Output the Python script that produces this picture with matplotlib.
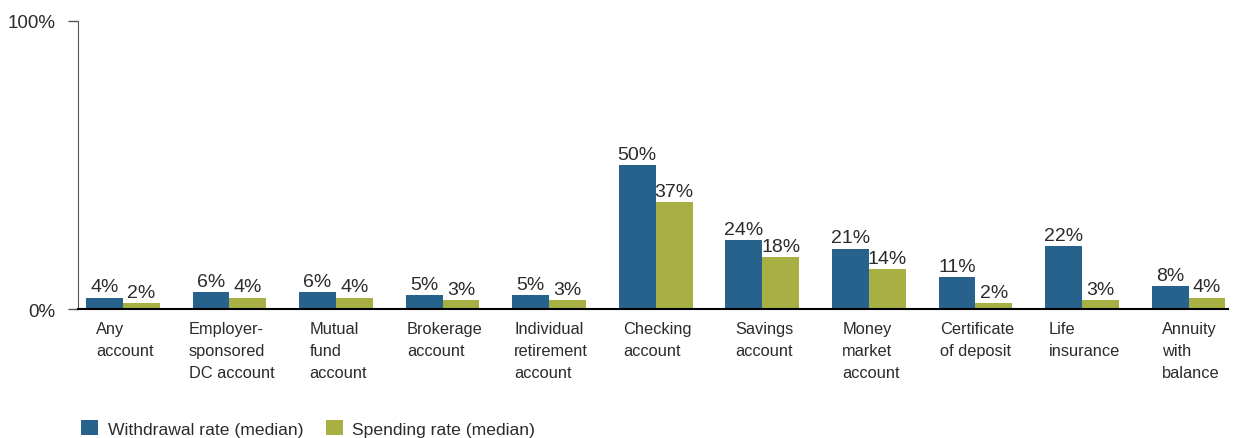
import matplotlib.pyplot as plt
import numpy as np

categories = ['Any\naccount', 'Employer-\nsponsored\nDC account', 'Mutual\nfund\naccount',
              'Brokerage\naccount', 'Individual\nretirement\naccount', 'Checking\naccount',
              'Savings\naccount', 'Money\nmarket\naccount', 'Certificate\nof deposit',
              'Life\ninsurance', 'Annuity\nwith\nbalance']
withdrawal = [4, 6, 6, 5, 5, 50, 24, 21, 11, 22, 8]
spending = [2, 4, 4, 3, 3, 37, 18, 14, 2, 3, 4]

blue = '#27628c'
green = '#a9b043'
text_col = '#2b2b2b'

plt.rcParams['font.family'] = ['Liberation Sans', 'DejaVu Sans']

fig = plt.figure(figsize=(12.37, 4.39), dpi=100)
ax = fig.add_axes([0.0631, 0.2938, 0.9296, 0.6561])

x = np.arange(len(categories))
w = 0.346
b1 = ax.bar(x - w / 2, withdrawal, w, color=blue, label='Withdrawal rate (median)')
b2 = ax.bar(x + w / 2, spending, w, color=green, label='Spending rate (median)')

# value labels above the bars
for bars, vals in [(b1, withdrawal), (b2, spending)]:
    for bar, v in zip(bars, vals):
        ax.annotate(f'{v}%', (bar.get_x() + bar.get_width() / 2, v), xytext=(0, 1.5),
                    textcoords='offset points', ha='center', va='bottom',
                    fontsize=14, color=text_col)

# category labels, block centred under each group, lines left aligned
for i, lab in enumerate(categories):
    ax.text(i + 0.02, -4, lab, ha='center', va='top', multialignment='left', fontsize=11.8,
            color=text_col, linespacing=1.62)

ax.set_xlim(-0.42, len(categories) - 1 + 0.37)
ax.set_ylim(0, 100)
ax.set_xticks([])
ax.set_yticks([0, 100])
ax.set_yticklabels(['0%', '100%'], fontsize=13.5, color=text_col)
ax.tick_params(axis='y', length=7.5, width=1, color='#555555', pad=9)

for s in ['top', 'right', 'bottom']:
    ax.spines[s].set_visible(False)
ax.spines['left'].set_color('#555555')
ax.axhline(0, color='black', lw=1.5, zorder=3, clip_on=False)

fig.legend(handles=[b1, b2], loc='lower left', bbox_to_anchor=(0.053, -0.033), ncol=2,
           frameon=False, fontsize=12.6, handlelength=0.95, handleheight=0.95,
           columnspacing=1.3, handletextpad=0.55, labelcolor=text_col)

fig.savefig('out.png', dpi=100)
